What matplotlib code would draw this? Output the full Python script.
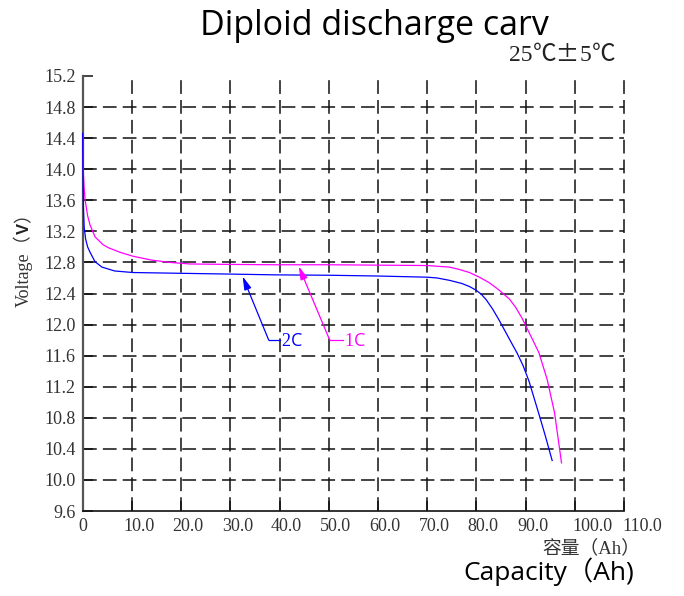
import matplotlib
matplotlib.use("Agg")
import matplotlib.pyplot as plt
from matplotlib.transforms import IdentityTransform, offset_copy

# ---------------- data ----------------
cap_2c = [0, 0.05, 0.15, 0.3, 0.6, 1.0, 1.5, 2.5, 3.9, 6.5, 10.2, 20, 30, 39, 50, 60,
          70, 72, 74.5, 77, 78.6, 80, 81, 82, 83.3, 84.6, 87, 88.3, 89.5, 90.7, 92.7, 94, 95.4]
volt_2c = [14.46, 14.0, 13.5, 13.25, 13.1, 13.0, 12.93, 12.81, 12.74, 12.69, 12.67, 12.66,
           12.65, 12.64, 12.635, 12.625, 12.61, 12.60, 12.57, 12.53, 12.49, 12.44, 12.39,
           12.32, 12.20, 12.06, 11.78, 11.63, 11.47, 11.27, 10.85, 10.57, 10.25]

cap_1c = [0, 0.1, 0.3, 0.5, 1.0, 1.5, 2.5, 4.1, 5.2, 7.6, 10.2, 14, 17.7, 21.8, 29, 39, 50,
          60, 70, 74.5, 76.5, 78.6, 80.6, 82.6, 84.5, 86.7, 88, 89.3, 91, 92.7, 94.4, 95.9,
          97.3]
volt_1c = [14.46, 14.0, 13.75, 13.6, 13.4, 13.28, 13.13, 13.03, 12.99, 12.93, 12.88, 12.83,
           12.80, 12.78, 12.775, 12.77, 12.77, 12.765, 12.76, 12.74, 12.71, 12.67, 12.61,
           12.54, 12.45, 12.33, 12.22, 12.08, 11.86, 11.64, 11.29, 10.86, 10.22]

x_ticks = [0, 10, 20, 30, 40, 50, 60, 70, 80, 90, 100, 110]
x_tick_labels = ["0", "10.0", "20.0", "30.0", "40.0", "50.0", "60.0", "70.0", "80.0",
                 "90.0", "100.0", "110.0"]
y_ticks = [9.6, 10.0, 10.4, 10.8, 11.2, 11.6, 12.0, 12.4, 12.8, 13.2, 13.6, 14.0, 14.4,
           14.8, 15.2]
y_tick_labels = ["9.6", "10.0", "10.4", "10.8", "11.2", "11.6", "12.0", "12.4", "12.8",
                 "13.2", "13.6", "14.0", "14.4", "14.8", "15.2"]

# callouts: (arrow tip on curve, elbow, end of horizontal leg, label)
callout_2c = dict(tip=(32.5, 12.62), elbow=(37.8, 11.80), end=(40.0, 11.80), num="2")
callout_1c = dict(tip=(43.9, 12.75), elbow=(50.2, 11.80), end=(52.8, 11.80), num="1")

title_text = "Diploid discharge carv"
temp_parts = ["25", "℃±", "5", "℃"]
xlabel_cn = "容量（Ah）"
xlabel_en = "Capacity（Ah)"
ylabel_parts = ["Voltage（", "V", "）"]

BLUE = "#0000FF"
MAGENTA = "#FF00FF"
CJK = ["Liberation Serif", "Noto Sans CJK SC"]

W, H = 684, 596
fig = plt.figure(figsize=(W / 100, H / 100), dpi=100)
ax = fig.add_axes([82.7 / W, 1 - 511 / H, (624 - 82.7) / W, (511 - 76) / H])
ax.set_xlim(0, 110)
ax.set_ylim(9.6, 15.2)

# curves
ax.plot(cap_1c, volt_1c, color=MAGENTA, lw=0.9, zorder=6, clip_on=False)
ax.plot(cap_2c, volt_2c, color=BLUE, lw=0.9, zorder=6, clip_on=False)

# grid
ax.set_xticks(x_ticks)
ax.set_yticks(y_ticks)
ax.grid(True, color="#111111", linestyle=(0, (9, 4)), linewidth=1.1, zorder=1)
ygl = ax.yaxis.get_gridlines()
ygl[-1].set_visible(False)
ygl[0].set_visible(False)
ax.xaxis.get_gridlines()[0].set_visible(False)
for gl in ax.xaxis.get_gridlines():
    gl.set_clip_on(False)

for s in ["top", "right"]:
    ax.spines[s].set_visible(False)
ax.spines["left"].set_color("#555555")
ax.spines["left"].set_linewidth(1.6)
ax.spines["bottom"].set_color("#111111")
ax.spines["bottom"].set_linewidth(1.2)

tick_font = dict(family="Liberation Serif", size=13, color="#333333")
ax.tick_params(axis="both", direction="in", length=7, width=1.1, color="#111111")
ax.set_yticklabels(y_tick_labels, fontdict=tick_font)
ax.tick_params(axis="y", pad=5)
ax.set_xticklabels(x_tick_labels, fontdict=tick_font)
ax.tick_params(axis="x", pad=5)
for lbl in ax.get_xticklabels():
    t = lbl.get_text()
    if t == "0":
        continue
    if len(t) > 4:
        lbl.set_ha("left")
        lbl.set_transform(offset_copy(lbl.get_transform(), fig=fig, x=-2, units="dots"))
    else:
        lbl.set_transform(offset_copy(lbl.get_transform(), fig=fig, x=7, units="dots"))

# callouts
for c, col in [(callout_2c, BLUE), (callout_1c, MAGENTA)]:
    ax.plot([c["elbow"][0], c["end"][0]], [c["elbow"][1], c["end"][1]], color=col, lw=0.9,
            zorder=6)
    ax.annotate("", xy=c["tip"], xytext=c["elbow"],
                arrowprops=dict(arrowstyle="-|>,head_length=0.8,head_width=0.22", color=col,
                                lw=0.9, shrinkA=0, shrinkB=0, mutation_scale=10),
                zorder=6)

renderer = fig.canvas.get_renderer()


def chain(pieces, x, y, rotation=0):
    """place text pieces one after another (baseline aligned), display pixels"""
    for s, props in pieces:
        t = fig.text(x, y, s, transform=IdentityTransform(), ha="left", va="baseline",
                     rotation=rotation, rotation_mode="anchor", **props)
        bb = t.get_window_extent(renderer)
        if rotation == 90:
            y = bb.y1
        else:
            x = bb.x1
    return x, y


# callout labels
for c, col in [(callout_2c, BLUE), (callout_1c, MAGENTA)]:
    px, py = ax.transData.transform(c["end"])
    chain([(c["num"], dict(family="Liberation Serif", size=13, color=col)),
           ("C", dict(family="Open Sans", size=13, color=col))], px + 2, py - 6)

# title
fig.text(374, H - 35, title_text, transform=IdentityTransform(), ha="center",
         va="baseline", family="Open Sans", size=24.5, color="black")

temp_fonts = ["Liberation Serif", "Noto Sans CJK SC", "Liberation Serif", "Noto Sans CJK SC"]
chain([(p, dict(family=f, size=17, color="#222222")) for p, f in zip(temp_parts, temp_fonts)],
      509, H - 61)

fig.text(640 / W, 1 - 548 / H, xlabel_cn, ha="right", va="center",
         family=CJK, size=13.5, color="#333333")
fig.text(634 / W, 1 - 572 / H, xlabel_en, ha="right", va="center",
         family=["Open Sans", "Noto Sans CJK SC"], size=19, color="black")

# y label: Voltage（V） rotated, bold V
ylabel_props = [dict(family=CJK, size=13, color="#333333"),
                dict(family="Liberation Sans", weight="bold", size=12, color="#222222"),
                dict(family=CJK, size=13, color="#333333")]
chain(list(zip(ylabel_parts, ylabel_props)), 29, H - 307, rotation=90)

fig.savefig("out.png", dpi=100)
